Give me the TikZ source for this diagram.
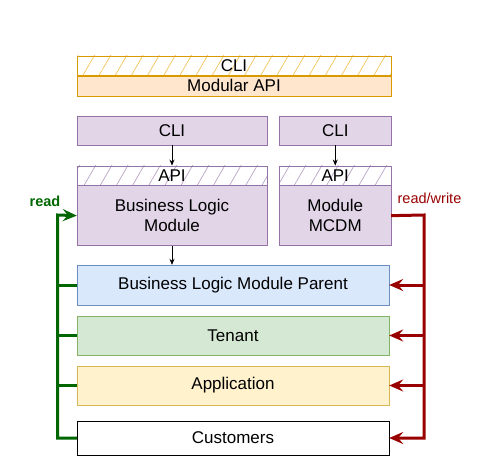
\documentclass[tikz,border=0pt]{standalone}
\usepackage{fontspec}
\setmainfont{Liberation Sans}
\usetikzlibrary{arrows.meta,patterns.meta}
\definecolor{orangeline}{HTML}{D79B00}
\definecolor{orangefill}{HTML}{FFE6CC}
\definecolor{orangehatch}{HTML}{F2C45A}
\definecolor{purpleline}{HTML}{9673A6}
\definecolor{purplefill}{HTML}{E1D5E7}
\definecolor{purplehatch}{HTML}{B8A2C6}
\definecolor{blueline}{HTML}{6C8EBF}
\definecolor{bluefill}{HTML}{DAE8FC}
\definecolor{greenline}{HTML}{82B366}
\definecolor{greenfill}{HTML}{D5E8D4}
\definecolor{yellowline}{HTML}{D6B656}
\definecolor{yellowfill}{HTML}{FFF2CC}
\definecolor{readgreen}{HTML}{006600}
\definecolor{writered}{HTML}{990000}
\begin{document}
\begin{tikzpicture}[x=1pt,y=-1pt]
    \tikzstyle{box}=[draw, rectangle, inner sep=0pt, align=center, font=\fontsize{17}{20}\selectfont]
    \tikzstyle{hatch}=[box, pattern={Lines[angle=60,distance=14pt,line width=0.7pt]}]
    \tikzstyle{small}=[-{Stealth[length=6pt,width=5pt]}, black, line width=0.7pt]
    \tikzstyle{readline}=[readgreen, line width=3pt]
    \tikzstyle{writeline}=[writered, line width=3pt]
    \tikzstyle{fat}=[-{Stealth[length=14pt,width=12pt,inset=5pt]}]
    \useasboundingbox (0,0) rectangle (491,471);
    % modular api
    \node[hatch, draw=orangeline, pattern color=orangehatch, minimum width=314pt, minimum height=19.5pt] (topcli) at (234,65.5) {CLI};
    \node[box, draw=orangeline, fill=orangefill, minimum width=314pt, minimum height=20pt, anchor=north] (modapi) at (topcli.south) {Modular API};
    % modules
    \node[box, draw=purpleline, fill=purplefill, minimum width=190pt, minimum height=29.5pt] (cli1) at (172,130.5) {CLI};
    \node[box, draw=purpleline, fill=purplefill, minimum width=111.5pt, minimum height=29.5pt] (cli2) at (335.25,130.5) {CLI};
    \node[hatch, draw=purpleline, pattern color=purplehatch, minimum width=190pt, minimum height=19.5pt] (api1) at (172,175.5) {API};
    \node[hatch, draw=purpleline, pattern color=purplehatch, minimum width=111.5pt, minimum height=19.5pt] (api2) at (335.25,175.5) {API};
    \node[box, draw=purpleline, fill=purplefill, minimum width=190pt, minimum height=60pt, anchor=north] (blm) at (api1.south) {Business Logic\\Module};
    \node[box, draw=purpleline, fill=purplefill, minimum width=111.5pt, minimum height=60pt, anchor=north] (mcdm) at (api2.south) {Module\\MCDM};
    % data
    \node[box, draw=blueline, fill=bluefill, minimum width=312pt, minimum height=40pt] (parent) at (233,285) {Business Logic Module Parent};
    \node[box, draw=greenline, fill=greenfill, minimum width=312pt, minimum height=39.5pt] (tenant) at (233,335.5) {Tenant};
    \node[box, draw=yellowline, fill=yellowfill, minimum width=312pt, minimum height=39.5pt] (app) at (233,385.5) {Application};
    \node[box, draw=black, fill=white, minimum width=312pt, minimum height=34pt] (cust) at (233,438) {Customers};
    \draw[small] (cli1) -- (api1);
    \draw[small] (cli2) -- (api2);
    \draw[small] (blm.south) -- (blm.south |- parent.north);
    % read
    \coordinate (gtop) at (57.5,215);
    \coordinate (gbot) at (gtop |- cust.west);
    \draw[readline, fat, line join=miter] (cust.west) -- (gbot) -- (gtop) -- (blm.west);
    \foreach \n in {parent,tenant,app}
        \draw[readline] (gtop |- \n.west) -- (\n.west);
    \node[readgreen, font=\fontsize{14.5}{17}\selectfont\bfseries] (readlbl) at (45,201.5) {read};
    % write
    \coordinate (rtop) at (424,215);
    \coordinate (rbot) at (rtop |- cust.east);
    \draw[writeline, fat, line join=miter] (mcdm.east) -- (rtop) -- (rbot) -- (cust.east);
    \foreach \n in {parent,tenant,app}
        \draw[writeline, fat] (rtop |- \n.east) -- (\n.east);
    \node[writered, font=\fontsize{14.5}{17}\selectfont] (writelbl) at (429.5,198) {read/write};
\end{tikzpicture}
\end{document}
